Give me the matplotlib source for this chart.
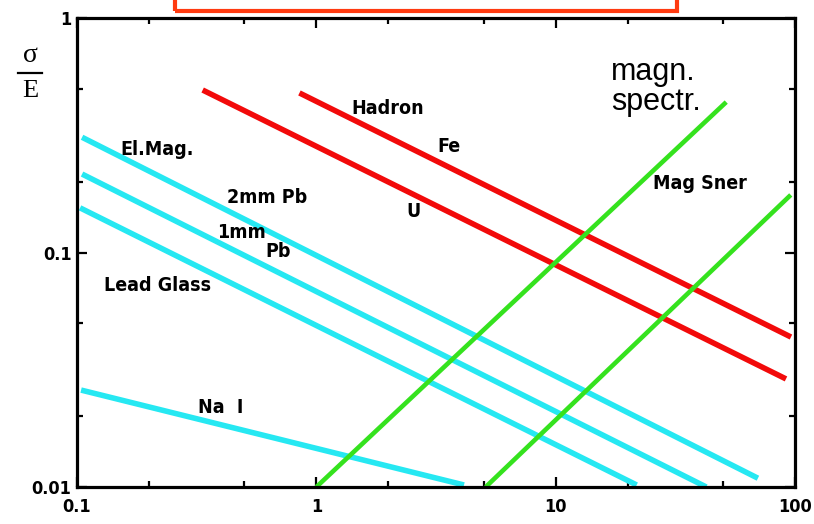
import matplotlib
matplotlib.use('Agg')
import matplotlib.pyplot as plt
from matplotlib.patches import Rectangle
from matplotlib.lines import Line2D
from matplotlib.ticker import FixedLocator, FixedFormatter, NullFormatter

# ---- data (energy in GeV, sigma/E) ----
em2_x = [0.105, 70.0]
em2_y = [0.31, 0.0109]
em1_x = [0.105, 42.6]
em1_y = [0.216, 0.0100]
lg_x = [0.103, 21.8]
lg_y = [0.155, 0.0102]
nai_x = [0.104, 4.14]
nai_y = [0.0259, 0.0102]
had_u_x = [0.335, 91.7]
had_u_y = [0.493, 0.0289]
had_fe_x = [0.85, 96.2]
had_fe_y = [0.479, 0.0436]
mspec_x = [1.0, 51.6]
mspec_y = [0.0100, 0.438]
msner_x = [5.1, 96.0]
msner_y = [0.0100, 0.176]

xticks = [0.1, 1, 10, 100]
xticklabels = ['0.1', '1', '10', '100']
yticks = [0.01, 0.1, 1]
yticklabels = ['0.01', '0.1', '1']

labels = ['El.Mag.', '2mm Pb', '1mm', 'Pb', 'Lead Glass', 'Na  I',
          'Hadron', 'Fe', 'U', 'Mag Sner']
label_x = [0.215, 0.62, 0.487, 0.695, 0.2175, 0.398, 1.98, 3.58, 2.54, 40.0]
label_y = [0.276, 0.171, 0.122, 0.101, 0.072, 0.0219, 0.413, 0.284, 0.150, 0.196]

CYAN = '#26e8f2'
RED = '#f20a0a'
GREEN = '#35e21e'

fig = plt.figure(figsize=(8.14, 5.24), dpi=100)
ax = fig.add_axes([77/814, 37/524, 718/814, 469/524])
ax.set_xscale('log')
ax.set_yscale('log')
ax.set_xlim(0.1, 100)
ax.set_ylim(0.01, 1)

lw = 4.0
for xs, ys in [(em2_x, em2_y), (em1_x, em1_y), (lg_x, lg_y), (nai_x, nai_y)]:
    ax.plot(xs, ys, color=CYAN, lw=lw, solid_capstyle='butt')
for xs, ys in [(had_u_x, had_u_y), (had_fe_x, had_fe_y)]:
    ax.plot(xs, ys, color=RED, lw=lw, solid_capstyle='butt')
for xs, ys in [(mspec_x, mspec_y), (msner_x, msner_y)]:
    ax.plot(xs, ys, color=GREEN, lw=3.3, solid_capstyle='butt')

for s in ax.spines.values():
    s.set_linewidth(2.3)
    s.set_color('black')

ax.xaxis.set_major_locator(FixedLocator(xticks))
ax.xaxis.set_major_formatter(FixedFormatter(xticklabels))
ax.yaxis.set_major_locator(FixedLocator(yticks))
ax.yaxis.set_major_formatter(FixedFormatter(yticklabels))
minor_x = [m * d for d in [0.1, 1, 10] for m in (2, 5)]
minor_y = [m * d for d in [0.01, 0.1] for m in (2, 5)]
ax.xaxis.set_minor_locator(FixedLocator(minor_x))
ax.yaxis.set_minor_locator(FixedLocator(minor_y))
ax.xaxis.set_minor_formatter(NullFormatter())
ax.yaxis.set_minor_formatter(NullFormatter())
ax.tick_params(which='both', direction='in', top=True, right=True,
               width=1.6, color='black')
ax.tick_params(which='major', length=7)
ax.tick_params(which='minor', length=4.5)
ax.tick_params(axis='x', which='major', pad=8)
ax.tick_params(axis='y', which='major', pad=4)
tick_font = dict(family=['DejaVu Sans'], weight='bold', size=13, stretch='condensed')
for t in ax.get_xticklabels() + ax.get_yticklabels():
    t.set_fontproperties(matplotlib.font_manager.FontProperties(**tick_font))

lab_font = dict(family=['DejaVu Sans'], fontweight='bold', fontsize=14,
                fontstretch='condensed', color='black')
for t, x, y in zip(labels, label_x, label_y):
    ax.text(x, y, t, ha='center', va='center', **lab_font)

ax.text(17.1, 0.68, 'magn.\nspectr.', ha='left', va='top',
        family=['Liberation Sans', 'DejaVu Sans'], fontsize=22,
        linespacing=1.0, color='black')

# sigma / E axis label
fig.text(30/814, 1 - 55/524, 'σ', ha='center', va='center',
         family=['Liberation Serif', 'DejaVu Serif'], fontsize=20)
fig.add_artist(Line2D([18/814, 42/814], [1 - 73/524, 1 - 73/524],
                      color='black', lw=1.6))
fig.text(30/814, 1 - 91/524, 'E', ha='center', va='center',
         family=['Liberation Serif', 'DejaVu Serif'], fontsize=19)

# red frame at the top
fig.add_artist(Rectangle((175/814, 1 - 11/524), 502/814, 0.1,
                         transform=fig.transFigure, fill=False,
                         edgecolor='#ff3a10', lw=3))

fig.savefig('out.png', dpi=100)
